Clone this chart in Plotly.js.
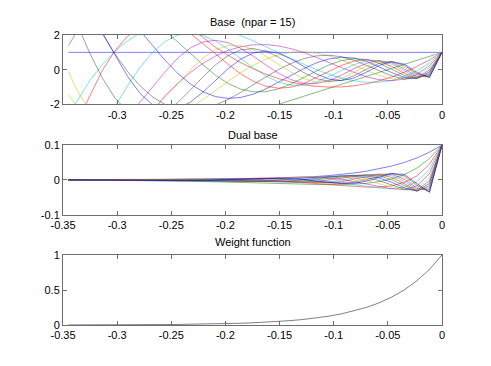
<!DOCTYPE html>
<html>
<head>
<meta charset="utf-8">
<script src="https://cdn.plot.ly/plotly-3.0.1.min.js"></script>
<style>
  html, body { margin: 0; padding: 0; background: #fff; }
  #chart { width: 491px; height: 366px; }
</style>
</head>
<body>
<div id="chart"></div>
<script>
// x positions of the samples (right to left, 0 down to -0.345)
const xBase = [0, -0.0116, -0.0232, -0.0348, -0.0465, -0.0581, -0.0697, -0.0813, -0.0929, -0.1045,
  -0.1162, -0.1278, -0.1394, -0.151, -0.1626, -0.1742, -0.1859, -0.1975, -0.2091, -0.2207,
  -0.2323, -0.2439, -0.2556, -0.2672, -0.2788, -0.2904, -0.302, -0.3136, -0.3253, -0.3369, -0.345];

// base functions, top panel
const base0 = [1, 1, 1, 1, 1, 1, 1, 1, 1, 1, 1, 1, 1, 1, 1, 1, 1, 1, 1, 1, 1, 1, 1, 1, 1, 1, 1, 1, 1, 1, 1];
const base1 = [1, 0.77, 0.54, 0.31, 0.08, -0.15, -0.38, -0.61, -0.84, -1.07, -1.3, -1.53, -1.76, -1.99, -2.22, -2.45, -2.68, -2.91, -3.14, -3.37, -3.6, -3.83, -4.06, -4.29, -4.52, -4.75, -4.98, -5.21, -5.44, -5.67, -5.83];
const base2 = [1, 0.566, 0.186, -0.142, -0.417, -0.639, -0.808, -0.924, -0.987, -0.998, -0.955, -0.86, -0.711, -0.51, -0.256, 0.051, 0.411, 0.824, 1.29, 1.808, 2.38, 3.004, 3.682, 4.412, 5.195, 6.031, 6.92, 7.862, 8.857, 9.904, 10.664];
const base3 = [1, 0.387, -0.079, -0.411, -0.62, -0.72, -0.721, -0.637, -0.48, -0.261, 0.007, 0.312, 0.642, 0.985, 1.328, 1.66, 1.968, 2.239, 2.463, 2.626, 2.717, 2.724, 2.633, 2.434, 2.113, 1.659, 1.059, 0.302, -0.625, -1.733, -2.619];
const base4 = [1, 0.231, -0.268, -0.541, -0.63, -0.574, -0.408, -0.166, 0.121, 0.427, 0.725, 0.994, 1.214, 1.37, 1.447, 1.435, 1.325, 1.112, 0.794, 0.371, -0.155, -0.776, -1.484, -2.269, -3.115, -4.005, -4.92, -5.837, -6.73, -7.571, -8.11];
const base5 = [1, 0.095, -0.395, -0.571, -0.522, -0.325, -0.044, 0.265, 0.558, 0.8, 0.965, 1.036, 1.002, 0.859, 0.61, 0.265, -0.165, -0.66, -1.199, -1.758, -2.31, -2.826, -3.276, -3.63, -3.858, -3.93, -3.819, -3.499, -2.946, -2.141, -1.425];
const base6 = [1, -0.022, -0.471, -0.53, -0.352, -0.055, 0.269, 0.552, 0.75, 0.835, 0.796, 0.634, 0.364, 0.005, -0.415, -0.863, -1.305, -1.706, -2.032, -2.251, -2.335, -2.259, -2.006, -1.564, -0.928, -0.102, 0.905, 2.071, 3.369, 4.764, 5.768];
const base7 = [1, -0.122, -0.504, -0.443, -0.16, 0.185, 0.484, 0.672, 0.718, 0.618, 0.389, 0.061, -0.327, -0.729, -1.102, -1.404, -1.596, -1.65, -1.545, -1.269, -0.822, -0.215, 0.532, 1.389, 2.315, 3.264, 4.181, 5.008, 5.683, 6.144, 6.305];
const base8 = [1, -0.205, -0.505, -0.328, 0.026, 0.369, 0.589, 0.642, 0.525, 0.269, -0.079, -0.46, -0.818, -1.099, -1.26, -1.272, -1.117, -0.795, -0.319, 0.284, 0.974, 1.704, 2.417, 3.054, 3.556, 3.863, 3.922, 3.69, 3.132, 2.228, 1.392];
const base9 = [1, -0.274, -0.479, -0.201, 0.189, 0.485, 0.592, 0.5, 0.246, -0.104, -0.474, -0.794, -1.004, -1.062, -0.95, -0.667, -0.234, 0.311, 0.918, 1.526, 2.073, 2.495, 2.733, 2.739, 2.477, 1.927, 1.086, -0.027, -1.376, -2.903, -4.031];
const base10 = [1, -0.33, -0.435, -0.073, 0.319, 0.533, 0.513, 0.291, -0.051, -0.418, -0.721, -0.894, -0.894, -0.712, -0.365, 0.107, 0.646, 1.184, 1.651, 1.978, 2.109, 2.002, 1.635, 1.007, 0.14, -0.923, -2.116, -3.356, -4.547, -5.585, -6.159];
const base11 = [1, -0.374, -0.376, 0.048, 0.41, 0.522, 0.377, 0.059, -0.312, -0.625, -0.795, -0.779, -0.57, -0.2, 0.274, 0.778, 1.231, 1.557, 1.695, 1.602, 1.259, 0.675, -0.116, -1.052, -2.056, -3.031, -3.876, -4.487, -4.768, -4.637, -4.269];
const base12 = [1, -0.407, -0.307, 0.156, 0.461, 0.461, 0.209, -0.161, -0.503, -0.706, -0.71, -0.509, -0.142, 0.32, 0.786, 1.169, 1.389, 1.392, 1.152, 0.674, -0.002, -0.813, -1.672, -2.476, -3.123, -3.512, -3.559, -3.203, -2.412, -1.19, -0.107];
const base13 = [1, -0.43, -0.233, 0.248, 0.477, 0.365, 0.031, -0.345, -0.609, -0.669, -0.506, -0.161, 0.284, 0.725, 1.064, 1.219, 1.142, 0.82, 0.283, -0.409, -1.166, -1.885, -2.457, -2.783, -2.781, -2.402, -1.628, -0.487, 0.958, 2.602, 3.791];
const base14 = [1, -0.445, -0.157, 0.321, 0.46, 0.245, -0.137, -0.476, -0.627, -0.536, -0.234, 0.191, 0.623, 0.947, 1.077, 0.966, 0.612, 0.061, -0.607, -1.287, -1.863, -2.23, -2.299, -2.016, -1.368, -0.385, 0.859, 2.251, 3.647, 4.884, 5.562];

// dual base, middle panel (sampled closer to 0, it is flat further left)
const xDual = [0, -0.0116, -0.0232, -0.0348, -0.0465, -0.0581, -0.0697, -0.0813, -0.0929, -0.1045,
  -0.1162, -0.1278, -0.1394, -0.151, -0.1626, -0.1742, -0.1859, -0.1975, -0.2091, -0.2207,
  -0.2323, -0.2904, -0.345];
const dual0 = [0.1, 0.0795, 0.0631, 0.0502, 0.0399, 0.0317, 0.0252, 0.02, 0.0159, 0.0126, 0.01, 0.008, 0.0063, 0.005, 0.004, 0.0032, 0.0025, 0.002, 0.0016, 0.0013, 0.001, 0.0003, 0.0001];
const dual1 = [0.1, 0.0612, 0.0341, 0.0156, 0.0032, -0.0047, -0.0096, -0.0122, -0.0133, -0.0135, -0.013, -0.0122, -0.0111, -0.01, -0.0089, -0.0078, -0.0068, -0.0058, -0.005, -0.0042, -0.0036, -0.0015, -0.0006];
const dual2 = [0.1, 0.045, 0.0117, -0.0071, -0.0166, -0.0202, -0.0203, -0.0185, -0.0157, -0.0126, -0.0096, -0.0069, -0.0045, -0.0026, -0.001, 0.0002, 0.001, 0.0016, 0.0021, 0.0023, 0.0024, 0.0019, 0.0012];
const dual3 = [0.1, 0.0307, -0.005, -0.0206, -0.0247, -0.0228, -0.0181, -0.0127, -0.0076, -0.0033, 0.0001, 0.0025, 0.0041, 0.005, 0.0053, 0.0053, 0.005, 0.0045, 0.0039, 0.0033, 0.0027, 0.0005, -0.0003];
const dual4 = [0.1, 0.0184, -0.0169, -0.0271, -0.0251, -0.0182, -0.0103, -0.0033, 0.0019, 0.0054, 0.0073, 0.0079, 0.0077, 0.0069, 0.0058, 0.0045, 0.0033, 0.0022, 0.0013, 0.0005, -0.0002, -0.0013, -0.0009];
const dual5 = [0.1, 0.0075, -0.0249, -0.0286, -0.0208, -0.0103, -0.0011, 0.0053, 0.0089, 0.0101, 0.0097, 0.0083, 0.0063, 0.0043, 0.0024, 0.0008, -0.0004, -0.0013, -0.0019, -0.0022, -0.0023, -0.0013, -0.0002];
const dual6 = [0.1, -0.0017, -0.0297, -0.0266, -0.014, -0.0017, 0.0068, 0.011, 0.0119, 0.0105, 0.008, 0.0051, 0.0023, 0, -0.0017, -0.0027, -0.0033, -0.0034, -0.0032, -0.0028, -0.0024, 0, 0.0006];
const dual7 = [0.1, -0.0097, -0.0318, -0.0222, -0.0064, 0.0059, 0.0122, 0.0134, 0.0114, 0.0078, 0.0039, 0.0005, -0.0021, -0.0037, -0.0044, -0.0045, -0.004, -0.0033, -0.0025, -0.0016, -0.0008, 0.001, 0.0007];
const dual8 = [0.1, -0.0163, -0.0319, -0.0165, 0.001, 0.0117, 0.0148, 0.0128, 0.0083, 0.0034, -0.0008, -0.0037, -0.0052, -0.0055, -0.005, -0.004, -0.0028, -0.0016, -0.0005, 0.0004, 0.001, 0.0012, 0.0002];
const dual9 = [0.1, -0.0218, -0.0302, -0.0101, 0.0075, 0.0154, 0.0149, 0.01, 0.0039, -0.0013, -0.0048, -0.0063, -0.0064, -0.0053, -0.0038, -0.0021, -0.0006, 0.0006, 0.0015, 0.0019, 0.0021, 0.0006, -0.0004];
const dual10 = [0.1, -0.0262, -0.0275, -0.0037, 0.0127, 0.0169, 0.0129, 0.0058, -0.0008, -0.0053, -0.0072, -0.0071, -0.0057, -0.0036, -0.0015, 0.0003, 0.0016, 0.0024, 0.0026, 0.0025, 0.0021, -0.0003, -0.0007];
const dual11 = [0.1, -0.0297, -0.0237, 0.0024, 0.0163, 0.0165, 0.0095, 0.0012, -0.005, -0.0079, -0.008, -0.0062, -0.0036, -0.001, 0.0011, 0.0025, 0.0031, 0.0031, 0.0027, 0.002, 0.0013, -0.001, -0.0005];
const dual12 = [0.1, -0.0323, -0.0194, 0.0078, 0.0184, 0.0146, 0.0053, -0.0032, -0.008, -0.0089, -0.0071, -0.0041, -0.0009, 0.0016, 0.0031, 0.0037, 0.0035, 0.0028, 0.0018, 0.0008, 0, -0.0011, 0];
const dual13 = [0.1, -0.0342, -0.0147, 0.0124, 0.019, 0.0116, 0.0008, -0.0069, -0.0097, -0.0084, -0.0051, -0.0013, 0.0018, 0.0036, 0.0043, 0.0039, 0.0029, 0.0016, 0.0004, -0.0005, -0.0012, -0.0008, 0.0004];
const dual14 = [0.1, -0.0354, -0.0099, 0.0161, 0.0183, 0.0078, -0.0034, -0.0095, -0.01, -0.0068, -0.0023, 0.0015, 0.0039, 0.0048, 0.0043, 0.0031, 0.0015, 0.0001, -0.001, -0.0016, -0.0019, -0.0001, 0.0006];

// weight function, bottom panel
const weight = [1, 0.7945, 0.6313, 0.5016, 0.3985, 0.3166, 0.2516, 0.1999, 0.1588, 0.1262, 0.1003, 0.0797, 0.0633, 0.0503, 0.04, 0.0317, 0.0252, 0.02, 0.0159, 0.0126, 0.0101, 0.008, 0.0064, 0.005, 0.004, 0.0032, 0.0025, 0.002, 0.0016, 0.0013, 0.0011];

const titles = ['Base\u00a0 (npar = 15)', 'Dual base', 'Weight function'];
const xTicksTop = [-0.3, -0.25, -0.2, -0.15, -0.1, -0.05, 0];
const xTicksAll = [-0.35, -0.3, -0.25, -0.2, -0.15, -0.1, -0.05, 0];

const baseSet = [base0, base1, base2, base3, base4, base5, base6, base7, base8, base9, base10, base11, base12, base13, base14];
const dualSet = [dual0, dual1, dual2, dual3, dual4, dual5, dual6, dual7, dual8, dual9, dual10, dual11, dual12, dual13, dual14];

// old matlab colour order, thin lines look washed out
const lineColors = ['rgba(0,0,255,0.5)', 'rgba(0,128,0,0.5)', 'rgba(255,0,0,0.5)', 'rgba(0,191,191,0.5)',
  'rgba(191,0,191,0.5)', 'rgba(191,191,0,0.5)', 'rgba(64,64,64,0.5)'];

var data = [];
baseSet.forEach(function (ys, i) {
  data.push({type: 'scatter', mode: 'lines', x: xBase, y: ys, xaxis: 'x', yaxis: 'y',
    line: {color: lineColors[i % 7], width: 1}, hoverinfo: 'skip'});
});
dualSet.forEach(function (ys, i) {
  data.push({type: 'scatter', mode: 'lines', x: xDual, y: ys, xaxis: 'x2', yaxis: 'y2',
    line: {color: lineColors[i % 7], width: 1}, hoverinfo: 'skip'});
});
data.push({type: 'scatter', mode: 'lines', x: xBase, y: weight, xaxis: 'x3', yaxis: 'y3',
  line: {color: 'rgba(0,0,0,0.5)', width: 1}, hoverinfo: 'skip'});

function axisStyle(extra) {
  var a = {
    showline: true, mirror: 'ticks', linecolor: '#6e6e6e', linewidth: 1,
    ticks: 'inside', ticklen: 4, tickcolor: '#6e6e6e', tickwidth: 1,
    showgrid: false, zeroline: false, fixedrange: true,
    tickfont: {size: 11, color: '#000'}, tickmode: 'array'
  };
  return Object.assign(a, extra);
}

function labels(vals) {
  return vals.map(function (v) { return String(v); });
}

const xDom = [63 / 491, 442 / 491];

const layout = {
  width: 491, height: 366,
  margin: {l: 0, r: 0, t: 0, b: 0},
  paper_bgcolor: '#fff', plot_bgcolor: '#fff',
  font: {family: 'Liberation Sans, Arial, sans-serif', size: 11, color: '#000'},
  showlegend: false,
  hovermode: false,
  xaxis: axisStyle({domain: xDom, anchor: 'y', range: [-0.35, 0], tickvals: xTicksTop, ticktext: labels(xTicksTop)}),
  xaxis2: axisStyle({domain: xDom, anchor: 'y2', range: [-0.35, 0], tickvals: xTicksAll, ticktext: labels(xTicksAll)}),
  xaxis3: axisStyle({domain: xDom, anchor: 'y3', range: [-0.35, 0], tickvals: xTicksAll, ticktext: labels(xTicksAll)}),
  yaxis: axisStyle({domain: [0.7145, 0.9044], anchor: 'x', range: [-2, 2], tickvals: [-2, 0, 2], ticktext: ['-2', '0', '2']}),
  yaxis2: axisStyle({domain: [0.4126, 0.6038], anchor: 'x2', range: [-0.1, 0.1], tickvals: [-0.1, 0, 0.1], ticktext: ['-0.1', '0', '0.1']}),
  yaxis3: axisStyle({domain: [0.112, 0.3033], anchor: 'x3', range: [0, 1], tickvals: [0, 0.5, 1], ticktext: ['0', '0.5', '1']}),
  annotations: [
    {text: titles[0], xref: 'paper', yref: 'paper', x: 252.5 / 491, y: 0.9399, xanchor: 'center', yanchor: 'middle', showarrow: false, font: {size: 11}},
    {text: titles[1], xref: 'paper', yref: 'paper', x: 252.5 / 491, y: 0.6311, xanchor: 'center', yanchor: 'middle', showarrow: false, font: {size: 11}},
    {text: titles[2], xref: 'paper', yref: 'paper', x: 252.5 / 491, y: 0.3388, xanchor: 'center', yanchor: 'middle', showarrow: false, font: {size: 11}}
  ]
};

Plotly.newPlot('chart', data, layout, {displayModeBar: false, staticPlot: true});
</script>
</body>
</html>
